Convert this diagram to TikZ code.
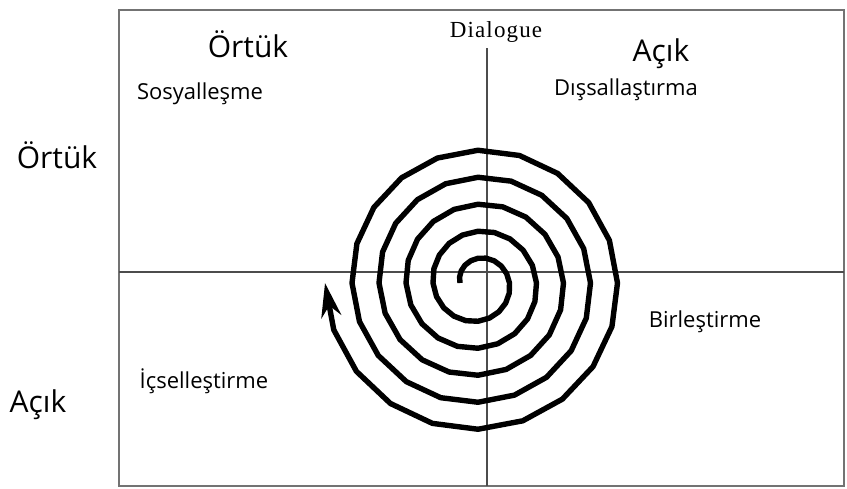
\documentclass[tikz,border=0pt]{standalone}
\usepackage{fontspec}
\setmainfont{Open Sans}
\newfontfamily\dialoguefont[LetterSpace=5]{Liberation Serif}
\usetikzlibrary{arrows.meta}

\begin{document}
\begin{tikzpicture}[x=1pt, y=-1pt,
    frame/.style={draw=black!55, line width=1.6pt},
    axis/.style={draw=black!70, line width=1.1pt},
    biglabel/.style={anchor=base, inner sep=0pt, font=\fontsize{30}{36}\selectfont},
    mode/.style={anchor=base, inner sep=0pt, font=\fontsize{22}{26}\selectfont},
    spiral/.style={line width=5.4pt, line join=round, -{Stealth[length=34pt, width=20pt]}}
]
\useasboundingbox (0,0) rectangle (847,488);

% frame and the two axes
\draw[frame] (119,10) rectangle (844,486);
\coordinate (vtop) at (487,48);
\coordinate (vbot) at (487,486);
\coordinate (hleft) at (119,272);
\coordinate (hright) at (844,272);
\draw[axis] (vtop) -- (vbot);
\draw[axis] (hleft) -- (hright);

% labels
\node[anchor=base, inner sep=0pt, font=\dialoguefont\fontsize{23}{27}\selectfont] (dialogue) at (496,37) {Dialogue};
\node[biglabel] (colortuk) at (248,57) {Örtük};
\node[biglabel] (colacik) at (661,61) {Açık};
\node[biglabel] (rowortuk) at (57,168) {Örtük};
\node[biglabel] (rowacik) at (38,412) {Açık};
\node[mode] (sos) at (200,99) {Sosyalleşme};
\node[mode] (dis) at (626,95) {Dışsallaştırma};
\node[mode] (bir) at (705,327) {Birleştirme};
\node[mode] (ics) at (204,388) {İçselleştirme};

% spiral
\draw[spiral] plot[domain=180:-1620, samples=101, variable=\t]
  ({478+(18+(180-\t)*0.075)*cos(\t)}, {283-(18+(180-\t)*0.075)*sin(\t)});
\end{tikzpicture}
\end{document}
